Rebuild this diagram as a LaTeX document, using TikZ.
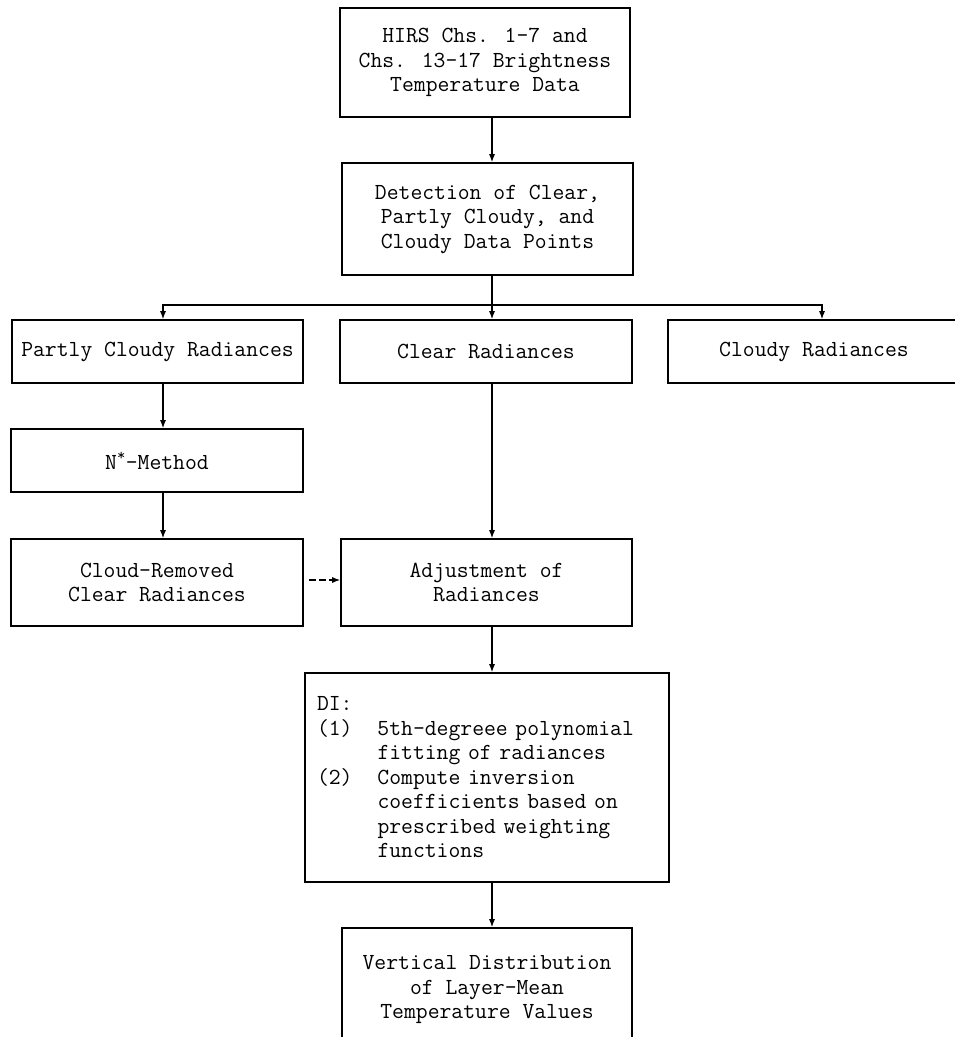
\documentclass[tikz,border=0pt]{standalone}
\usepackage{fontspec}
\newfontfamily\mono{Latin Modern Mono}
\usetikzlibrary{arrows.meta}
\begin{document}
\begin{tikzpicture}[x=1pt,y=-1pt,
  box/.style={draw,line width=1.6pt,inner sep=0pt,align=center,font=\mono\fontsize{23}{24.5}\selectfont},
  arr/.style={line width=1.2pt,-{Latex[length=8pt,width=6pt]}},
  conn/.style={line width=1.2pt}]
\useasboundingbox (0,0) rectangle (955,1037);
\node[box,minimum width=290pt,minimum height=109pt] (b1) at (485,62.5) {HIRS Chs. 1-7 and\\Chs. 13-17 Brightness\\Temperature Data};
\node[box,minimum width=291pt,minimum height=112pt] (b2) at (487.5,219) {Detection of Clear,\\Partly Cloudy, and\\Cloudy Data Points};
\node[box,minimum width=291pt,minimum height=63pt] (pc) at (157.5,351.5) {Partly Cloudy Radiances};
\node[box,minimum width=292pt,minimum height=63pt] (cl) at (486,351.5) {Clear Radiances};
\node[box,minimum width=292pt,minimum height=63pt] (cd) at (814,351.5) {Cloudy Radiances};
\node[box,minimum width=292pt,minimum height=63pt] (ns) at (157,460.5) {N\textsuperscript{*}-Method};
\node[box,minimum width=292pt,minimum height=87pt] (cr) at (157,582.5) {Cloud-Removed\\Clear Radiances};
\node[box,minimum width=291pt,minimum height=87pt] (adj) at (486.5,582.5) {Adjustment of\\Radiances};
\node[box,minimum width=364pt,minimum height=209pt,text width=340pt,align=left] (di) at (487,777.5) {DI:\\
\makebox[60.5pt][l]{(1)}5th-degreee polynomial\\
\hspace*{60.5pt}fitting of radiances\\
\makebox[60.5pt][l]{(2)}Compute inversion\\
\hspace*{60.5pt}coefficients based on\\
\hspace*{60.5pt}prescribed weighting\\
\hspace*{60.5pt}functions};
\node[box,minimum width=290pt,minimum height=124pt] (vd) at (487,990) {Vertical Distribution\\of Layer-Mean\\Temperature Values};
\coordinate (cx) at (492,0);
\coordinate (lx) at (163,0);
\coordinate (rx) at (822,0);
\coordinate (hy) at (0,305);
\draw[arr] (b1.south -| cx) -- (b2.north -| cx);
\draw[arr] (b2.south -| cx) -- (cl.north -| cx);
\draw[arr] (hy -| cx) -| (pc.north -| lx);
\draw[arr] (hy -| cx) -| (cd.north -| rx);
\draw[arr] (pc.south -| lx) -- (ns.north -| lx);
\draw[arr] (ns.south -| lx) -- (cr.north -| lx);
\draw[arr] (cl.south -| cx) -- (adj.north -| cx);
\draw[arr,dash pattern=on 7pt off 3pt,shorten <=5pt] ([yshift=2.5pt]cr.east) -- ([yshift=2.5pt]adj.west);
\draw[arr] (adj.south -| cx) -- (di.north -| cx);
\draw[arr] (di.south -| cx) -- (vd.north -| cx);
\end{tikzpicture}
\end{document}
